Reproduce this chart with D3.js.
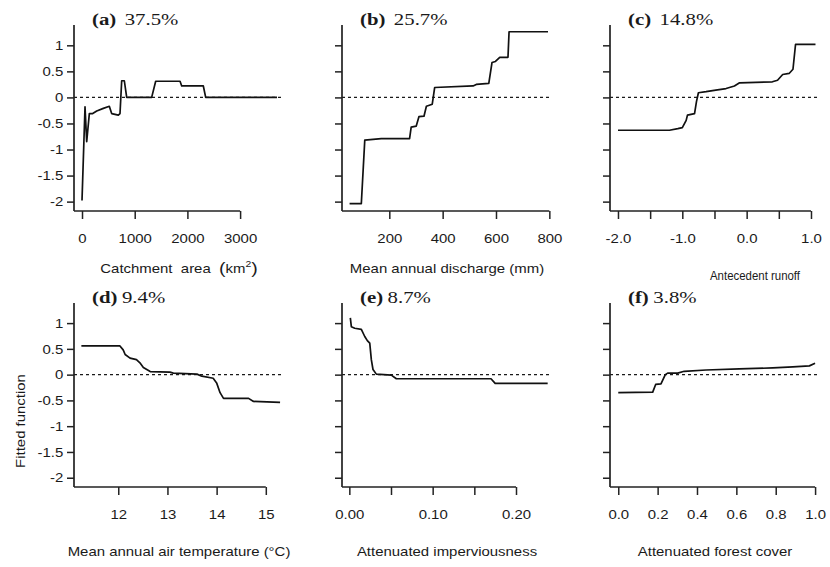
<!DOCTYPE html>
<html>
<head>
<meta charset="utf-8">
<script src="https://cdn.jsdelivr.net/npm/d3@7"></script>
<style>
  body { margin: 0; background: #fff; }
  svg text { font-family: "Liberation Sans", Arial, sans-serif; fill: #1a1a1a; }
  svg .title text { font-family: "Liberation Serif", "Times New Roman", serif; }
</style>
</head>
<body>
<svg id="chart" width="830" height="567"></svg>
<script>
// partial dependence curves
const areaX = [0, 57, 89, 139, 203, 279, 405, 518, 563, 689, 721, 753, 803, 848, 1322, 1398, 1860, 1892, 2302, 2347, 3700]
const areaY = [-1.98, -0.18, -0.85, -0.31, -0.31, -0.26, -0.21, -0.17, -0.31, -0.34, -0.31, 0.32, 0.32, 0, 0, 0.31, 0.31, 0.22, 0.22, 0, 0]

const dischargeX = [51, 95, 108, 170, 276, 282, 301, 311, 330, 339, 361, 370, 514, 526, 573, 585, 598, 614, 645, 649, 795]
const dischargeY = [-2.04, -2.04, -0.82, -0.79, -0.79, -0.57, -0.55, -0.37, -0.36, -0.17, -0.13, 0.19, 0.22, 0.25, 0.27, 0.67, 0.69, 0.77, 0.77, 1.26, 1.26]

const runoffX = [-2.0, -1.2, -1.07, -1.0, -0.94, -0.92, -0.81, -0.78, -0.75, -0.63, -0.48, -0.32, -0.19, -0.11, 0.40, 0.48, 0.56, 0.66, 0.72, 0.76, 1.07]
const runoffY = [-0.63, -0.63, -0.60, -0.58, -0.44, -0.34, -0.31, -0.08, 0.09, 0.11, 0.14, 0.17, 0.22, 0.28, 0.30, 0.33, 0.44, 0.46, 0.54, 1.02, 1.02]

const tempX = [11.25, 12.03, 12.1, 12.14, 12.24, 12.37, 12.44, 12.51, 12.65, 13.05, 13.12, 13.6, 13.7, 13.93, 14.0, 14.07, 14.14, 14.65, 14.75, 15.29]
const tempY = [0.56, 0.56, 0.48, 0.39, 0.32, 0.29, 0.23, 0.14, 0.06, 0.05, 0.03, 0.01, -0.03, -0.07, -0.16, -0.35, -0.46, -0.46, -0.52, -0.54]

const imperviousX = [0.0012, 0.0024, 0.0065, 0.0144, 0.0185, 0.0216, 0.0245, 0.0264, 0.0284, 0.0324, 0.0504, 0.0564, 0.170, 0.175, 0.238]
const imperviousY = [1.10, 0.93, 0.90, 0.88, 0.74, 0.66, 0.61, 0.29, 0.10, 0.01, -0.01, -0.08, -0.08, -0.17, -0.17]

const forestX = [0, 0.175, 0.19, 0.217, 0.239, 0.251, 0.302, 0.335, 0.446, 0.615, 0.785, 0.887, 0.971, 1.0]
const forestY = [-0.35, -0.34, -0.19, -0.18, 0, 0.03, 0.03, 0.065, 0.09, 0.11, 0.13, 0.15, 0.17, 0.22]

const panelKeys = ['(a)', '(b)', '(c)', '(d)', '(e)', '(f)']
const panelPct = ['37.5%', '25.7%', '14.8%', '9.4%', '8.7%', '3.8%']

const yTicks = [1, 0.5, 0, -0.5, -1, -1.5, -2]
const yTickLabels = ['1', '0.5', '0', '-0.5', '-1', '-1.5', '-2']

const areaTicks = [0, 1000, 2000, 3000]
const dischargeTicks = [200, 400, 600, 800]
const runoffTicks = [-2, -1.5, -1, -0.5, 0, 0.5, 1]
const tempTicks = [12, 13, 14, 15]
const imperviousTicks = [0, 0.05, 0.1, 0.15, 0.2]
const forestTicks = [0, 0.2, 0.4, 0.6, 0.8, 1]

const fmt1 = d => d3.format('.1f')(d).replace('−', '-')
const fmt2 = d => d3.format('.2f')(d)

const colLeft = [74, 342, 610]
const panelW = 210
const rowRange = [[211, 25], [487, 303]]
const yDomain = [-2.18, 1.39]
const textScale = 1.15

const panels = [
  {xs: areaX, ys: areaY, xlim: [-152, 3833], ticks: areaTicks, fmt: d => d, xlab: 'area'},
  {xs: dischargeX, ys: dischargeY, xlim: [22.6, 810], ticks: dischargeTicks, fmt: d => d, xlab: 'Mean annual discharge (mm)'},
  {xs: runoffX, ys: runoffY, xlim: [-2.124, 1.14], ticks: runoffTicks, fmt: d => Number.isInteger(d) ? fmt1(d) : '', xlab: 'Antecedent runoff', dx: 40, dy: 7, sx: 0.88},
  {xs: tempX, ys: tempY, xlim: [11.1, 15.37], ticks: tempTicks, fmt: d => d, xlab: 'Mean annual air temperature (°C)'},
  {xs: imperviousX, ys: imperviousY, xlim: [-0.0088, 0.2432], ticks: imperviousTicks, fmt: d => Math.round(d * 100) % 10 === 0 ? fmt2(d) : '', xlab: 'Attenuated imperviousness'},
  {xs: forestX, ys: forestY, xlim: [-0.042, 1.025], ticks: forestTicks, fmt: fmt1, xlab: 'Attenuated forest cover'}
]

const svg = d3.select('#chart')
svg.append('rect').attr('width', 830).attr('height', 567).attr('fill', '#fff')

panels.forEach((p, i) => {
  const row = Math.floor(i / 3)
  const col = i % 3
  const left = colLeft[col]
  const right = left + panelW
  const [bottom, top] = rowRange[row]

  const x = d3.scaleLinear().domain(p.xlim).range([left, right])
  const y = d3.scaleLinear().domain(yDomain).range([bottom, top])
  const g = svg.append('g')

  // zero reference line
  g.append('line')
    .attr('x1', left).attr('x2', right)
    .attr('y1', y(0)).attr('y2', y(0))
    .attr('stroke', '#1a1a1a').attr('stroke-width', 1.2)
    .attr('stroke-dasharray', '3,3')

  // fitted function
  const line = d3.line().x(d => x(d[0])).y(d => y(d[1]))
  g.append('path')
    .datum(d3.zip(p.xs, p.ys))
    .attr('d', line)
    .attr('fill', 'none')
    .attr('stroke', '#111')
    .attr('stroke-width', 1.7)
    .attr('stroke-linejoin', 'round')

  // y axis
  const yAxis = d3.axisLeft(y).tickValues(yTicks).tickSize(7).tickPadding(2.3)
    .tickFormat((d, k) => col === 0 ? yTickLabels[k] : '')
  const ya = g.append('g').attr('transform', `translate(${left},0)`).call(yAxis)
  ya.select('.domain').remove()
  ya.selectAll('line').attr('stroke', '#222').attr('stroke-width', 1.5)
  ya.selectAll('text').attr('font-size', 13).attr('font-family', null)
    .attr('transform', `scale(${textScale},1)`)
  g.append('line')
    .attr('x1', left).attr('x2', left).attr('y1', top).attr('y2', bottom)
    .attr('stroke', '#222').attr('stroke-width', 1.7)

  // x axis
  const xAxis = d3.axisBottom(x).tickValues(p.ticks).tickSize(8).tickPadding(15)
    .tickFormat(p.fmt)
  const xa = g.append('g').attr('transform', `translate(0,${bottom})`).call(xAxis)
  xa.select('.domain').remove()
  xa.selectAll('line').attr('stroke', '#222').attr('stroke-width', 1.5)
  xa.selectAll('text').attr('font-size', 13).attr('font-family', null)
    .attr('transform', `scale(${textScale},1)`)
  g.append('line')
    .attr('x1', left).attr('x2', x(p.ticks[p.ticks.length - 1]))
    .attr('y1', bottom).attr('y2', bottom)
    .attr('stroke', '#222').attr('stroke-width', 1.7)

  // panel title
  const tg = g.append('g').attr('class', 'title')
    .attr('transform', `translate(${left + 18},${top}) scale(1.3,1)`)
  const tt = tg.append('text').attr('font-size', 16)
  tt.append('tspan').attr('font-weight', 'bold').text(panelKeys[i])
  tt.append('tspan').attr('dx', panelPct[i].length > 4 ? 6.5 : 3.5).text(panelPct[i])

  // x axis title
  const lx = (left + right) / 2 + (p.dx || 0)
  const ly = (row === 0 ? 273 : 556) + (p.dy || 0)
  const lg = g.append('g').attr('transform', `translate(${lx},${ly}) scale(${p.sx || textScale},1)`)
  const lt = lg.append('text').attr('text-anchor', 'middle').attr('font-size', 13)
  if (p.xlab === 'area') {
    lt.append('tspan').text('Catchment\u00a0 area\u00a0 ')
    lt.append('tspan').attr('font-size', 17).attr('dy', 1).text('(')
    lt.append('tspan').attr('dy', -1).text('km')
    lt.append('tspan').attr('font-size', 9).attr('dy', -6).text('2')
    lt.append('tspan').attr('font-size', 17).attr('dy', 7).text(')')
  } else {
    lt.text(p.xlab)
  }
})

// shared y label
svg.append('g')
  .attr('transform', 'translate(25,421) rotate(-90)')
  .append('text')
  .attr('text-anchor', 'middle')
  .attr('font-size', 13)
  .attr('transform', `scale(${textScale},1)`)
  .text('Fitted function')
</script>
</body>
</html>
